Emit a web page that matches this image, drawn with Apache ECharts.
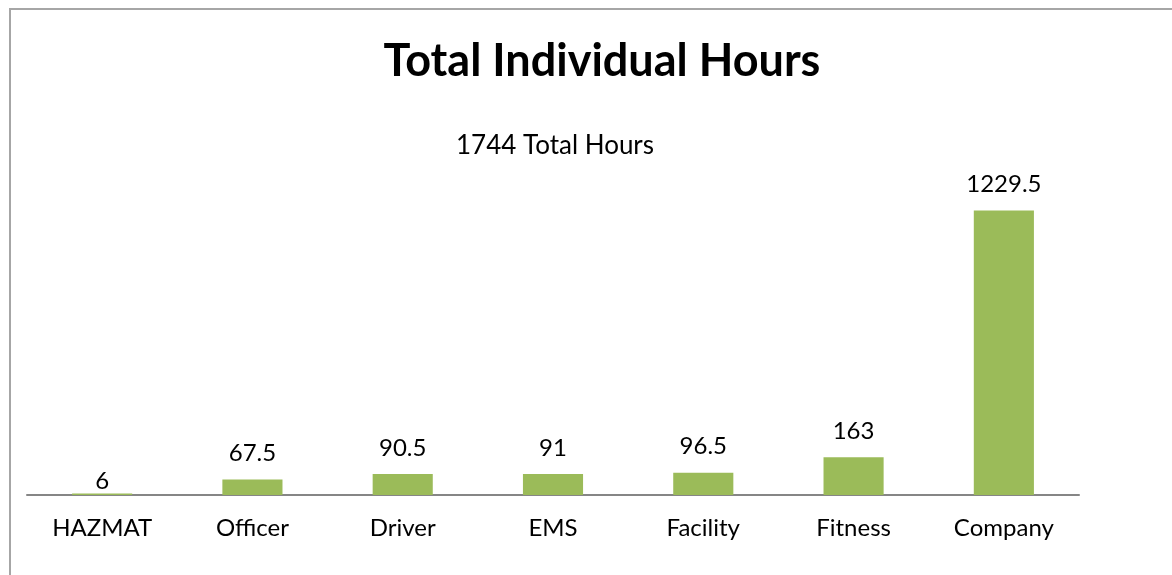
<!DOCTYPE html>
<html>

<head>
    <meta charset="UTF-8">
    <script src="https://cdn.jsdelivr.net/npm/echarts@6/dist/echarts.min.js"></script>
    <style>
    html, body {
        margin: 0;
        padding: 0;
        background: #fff;
    }
    .frame {
        position: absolute;
        left: 9px;
        top: 8px;
        width: 1200px;
        height: 600px;
        border-left: 2px solid #a6a6a6;
        border-top: 2px solid #a6a6a6;
    }
    #chart {
        position: absolute;
        left: 0;
        top: 0;
        width: 1172px;
        height: 575px;
    }
    </style>
</head>

<body>
    <div class="frame"></div>
    <div id="chart"></div>
    <script>
    // 数据
    var categories = ['HAZMAT', 'Officer', 'Driver', 'EMS', 'Facility', 'Fitness', 'Company'];
    var hours = [6, 67.5, 90.5, 91, 96.5, 163, 1229.5];
    var totalHours = 1744;

    var font = 'Lato, "Open Sans", sans-serif';

    // HAZMAT的标签在原图中几乎贴着柱子
    var barData = hours.map(function(v, i) {
        if (i === 0) {
            return { value: v, label: { distance: 0 } };
        }
        return v;
    });

    var option = {
        animation: false,
        title: [{
            text: 'Total Individual Hours',
            left: 597,
            top: 34,
            textAlign: 'center',
            textStyle: {
                fontFamily: font,
                fontSize: 45,
                fontWeight: 'bold',
                color: '#000'
            }
        }, {
            text: totalHours + ' Total Hours',
            left: 550,
            top: 128,
            textAlign: 'center',
            textStyle: {
                fontFamily: font,
                fontSize: 26,
                fontWeight: 'normal',
                color: '#000'
            }
        }],
        grid: {
            left: 27,
            right: 93,
            top: 171,
            bottom: 80,
            containLabel: false
        },
        xAxis: {
            type: 'category',
            data: categories,
            axisLine: {
                lineStyle: { color: '#868686', width: 2 }
            },
            axisTick: { show: false },
            axisLabel: {
                margin: 21,
                fontFamily: font,
                fontSize: 24,
                color: '#000'
            }
        },
        yAxis: {
            type: 'value',
            min: 0,
            max: 1400,
            show: false,
            splitLine: { show: false }
        },
        series: [{
            type: 'bar',
            data: barData,
            barWidth: '40%',
            itemStyle: { color: '#9bbb59' },
            label: {
                show: true,
                position: 'top',
                distance: 14,
                fontFamily: font,
                fontSize: 24,
                color: '#000'
            }
        }]
    };

    var myChart = echarts.init(document.getElementById('chart'));
    myChart.setOption(option);
    </script>
</body>

</html>
